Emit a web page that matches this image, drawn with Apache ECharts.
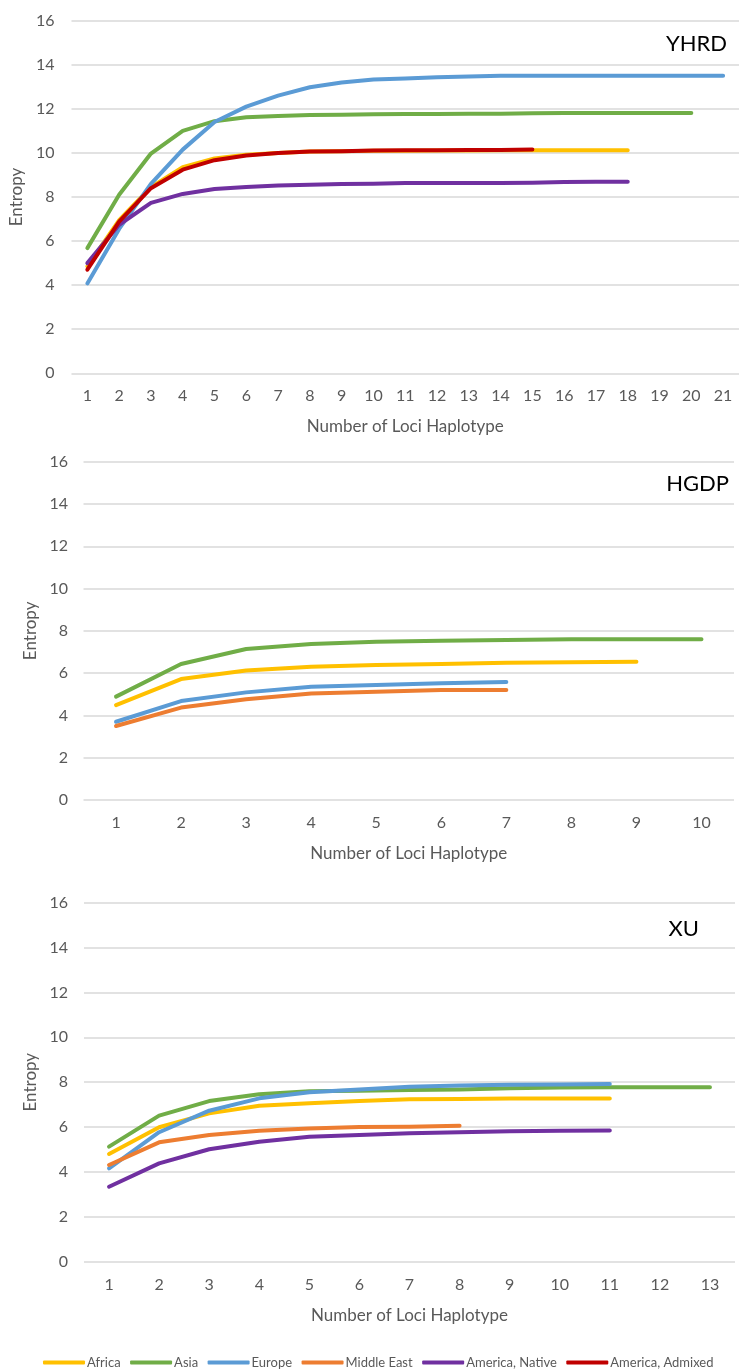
<!DOCTYPE html>
<html>
<head>
<meta charset="utf-8">
<script src="https://cdn.jsdelivr.net/npm/echarts@6/dist/echarts.min.js"></script>
<style>
html,body{margin:0;padding:0;background:#fff;}
#chart{width:739px;height:1372px;}
</style>
</head>
<body>
<div id="chart"></div>
<script>
// ---- Data ----
const yhrdCategories = ['1','2','3','4','5','6','7','8','9','10','11','12','13','14','15','16','17','18','19','20','21'];
const hgdpCategories = ['1','2','3','4','5','6','7','8','9','10'];
const xuCategories = ['1','2','3','4','5','6','7','8','9','10','11','12','13'];
const yTicks = [0, 2, 4, 6, 8, 10, 12, 14, 16];

const yhrdAfrica   = [4.85, 6.95, 8.45, 9.35, 9.75, 9.92, 10.0, 10.06, 10.08, 10.1, 10.1, 10.11, 10.11, 10.12, 10.12, 10.12, 10.12, 10.12];
const yhrdAsia     = [5.68, 8.1, 9.97, 11.0, 11.44, 11.62, 11.68, 11.72, 11.73, 11.76, 11.77, 11.77, 11.78, 11.78, 11.8, 11.81, 11.81, 11.81, 11.81, 11.81];
const yhrdEurope   = [4.08, 6.55, 8.6, 10.15, 11.4, 12.1, 12.6, 12.98, 13.2, 13.33, 13.38, 13.43, 13.47, 13.5, 13.5, 13.5, 13.5, 13.5, 13.5, 13.5, 13.5];
const yhrdNative   = [5.0, 6.74, 7.73, 8.14, 8.36, 8.45, 8.52, 8.56, 8.59, 8.6, 8.63, 8.64, 8.64, 8.64, 8.65, 8.68, 8.69, 8.69];
const yhrdAdmixed  = [4.7, 6.88, 8.4, 9.24, 9.67, 9.88, 10.0, 10.06, 10.08, 10.11, 10.12, 10.12, 10.13, 10.13, 10.15];

const hgdpAfrica     = [4.49, 5.72, 6.12, 6.3, 6.38, 6.43, 6.49, 6.51, 6.54];
const hgdpAsia       = [4.89, 6.43, 7.14, 7.38, 7.49, 7.53, 7.57, 7.6, 7.6, 7.6];
const hgdpEurope     = [3.7, 4.68, 5.09, 5.36, 5.44, 5.52, 5.58];
const hgdpMiddleEast = [3.5, 4.37, 4.76, 5.04, 5.12, 5.2, 5.2];

const xuAfrica     = [4.8, 5.99, 6.61, 6.95, 7.06, 7.16, 7.24, 7.25, 7.27, 7.27, 7.27];
const xuAsia       = [5.13, 6.51, 7.16, 7.46, 7.6, 7.62, 7.65, 7.68, 7.73, 7.76, 7.77, 7.77, 7.77];
const xuEurope     = [4.16, 5.77, 6.73, 7.28, 7.55, 7.68, 7.8, 7.85, 7.89, 7.9, 7.92];
const xuMiddleEast = [4.31, 5.32, 5.65, 5.84, 5.94, 6.0, 6.02, 6.06];
const xuNative     = [3.34, 4.38, 5.01, 5.35, 5.57, 5.65, 5.72, 5.77, 5.81, 5.84, 5.85];

const panelTitles = ['YHRD', 'HGDP', 'XU'];
const legendNames = ['Africa', 'Asia', 'Europe', 'Middle East', 'America, Native', 'America, Admixed'];
const xAxisTitle = 'Number of Loci Haplotype';
const yAxisTitle = 'Entropy';

// ---- Styles ----
const FONT = 'Lato, "Open Sans", sans-serif';
const COLORS = {
  'Africa': '#FFC000',
  'Asia': '#70AD47',
  'Europe': '#5B9BD5',
  'Middle East': '#ED7D31',
  'America, Native': '#7030A0',
  'America, Admixed': '#C00000'
};

const grids = [
  { left: 69, width: 673, top: 20.7, height: 352.6 },
  { left: 83.5, width: 650.5, top: 461.7, height: 338.3 },
  { left: 84, width: 651, top: 902.7, height: 359 }
];
const cats = [yhrdCategories, hgdpCategories, xuCategories];
const yLabelMargins = [17, 15.5, 16];

const xAxes = cats.map((c, i) => ({
  type: 'category', gridIndex: i, data: c, boundaryGap: true,
  axisLine: { show: false }, axisTick: { show: false },
  axisLabel: { color: '#595959', fontSize: 16, fontFamily: FONT, margin: 15, interval: 0 },
  name: xAxisTitle, nameLocation: 'middle', nameGap: 45,
  nameTextStyle: { color: '#595959', fontSize: 17, fontFamily: FONT }
}));
const yAxes = grids.map((g, i) => ({
  type: 'value', gridIndex: i, min: yTicks[0], max: yTicks[yTicks.length - 1], interval: yTicks[1] - yTicks[0],
  axisLine: { show: false }, axisTick: { show: false },
  splitLine: { lineStyle: { color: '#d9d9d9', width: 1.5 } },
  axisLabel: { color: '#595959', fontSize: 16, fontFamily: FONT, margin: yLabelMargins[i] },
  name: yAxisTitle, nameLocation: 'middle', nameGap: 40, nameRotate: 90,
  nameTextStyle: { color: '#595959', fontSize: 17, fontFamily: FONT }
}));

function line(name, data, idx) {
  return {
    type: 'line', name: name, data: data, xAxisIndex: idx, yAxisIndex: idx,
    symbol: 'none', showSymbol: false, smooth: false,
    lineStyle: { color: COLORS[name], width: 4, cap: 'round', join: 'round' },
    itemStyle: { color: COLORS[name] },
    emphasis: { disabled: true }
  };
}

const series = [
  line('Africa', yhrdAfrica, 0),
  line('Asia', yhrdAsia, 0),
  line('Europe', yhrdEurope, 0),
  line('America, Native', yhrdNative, 0),
  line('America, Admixed', yhrdAdmixed, 0),
  line('Africa', hgdpAfrica, 1),
  line('Asia', hgdpAsia, 1),
  line('Europe', hgdpEurope, 1),
  line('Middle East', hgdpMiddleEast, 1),
  line('Africa', xuAfrica, 2),
  line('Asia', xuAsia, 2),
  line('Europe', xuEurope, 2),
  line('Middle East', xuMiddleEast, 2),
  line('America, Native', xuNative, 2)
];

const titleStyle = { color: '#000', fontSize: 22, fontWeight: 'normal', fontFamily: FONT };
const option = {
  animation: false,
  backgroundColor: '#fff',
  title: [
    { text: panelTitles[0], right: 12, top: 33, padding: 0, textStyle: titleStyle },
    { text: panelTitles[1], right: 10, top: 473, padding: 0, textStyle: titleStyle },
    { text: panelTitles[2], right: 40, top: 918, padding: 0, textStyle: titleStyle }
  ],
  legend: {
    data: legendNames, left: 43, top: 1356, orient: 'horizontal', padding: 0,
    icon: 'roundRect', itemWidth: 42, itemHeight: 4, itemGap: 9.5,
    textStyle: { color: '#595959', fontSize: 13, fontFamily: FONT, padding: [0, 0, 0, -3] }
  },
  grid: grids,
  xAxis: xAxes,
  yAxis: yAxes,
  series: series
};

const chart = echarts.init(document.getElementById('chart'), null, { renderer: 'canvas' });
chart.setOption(option);
</script>
</body>
</html>
